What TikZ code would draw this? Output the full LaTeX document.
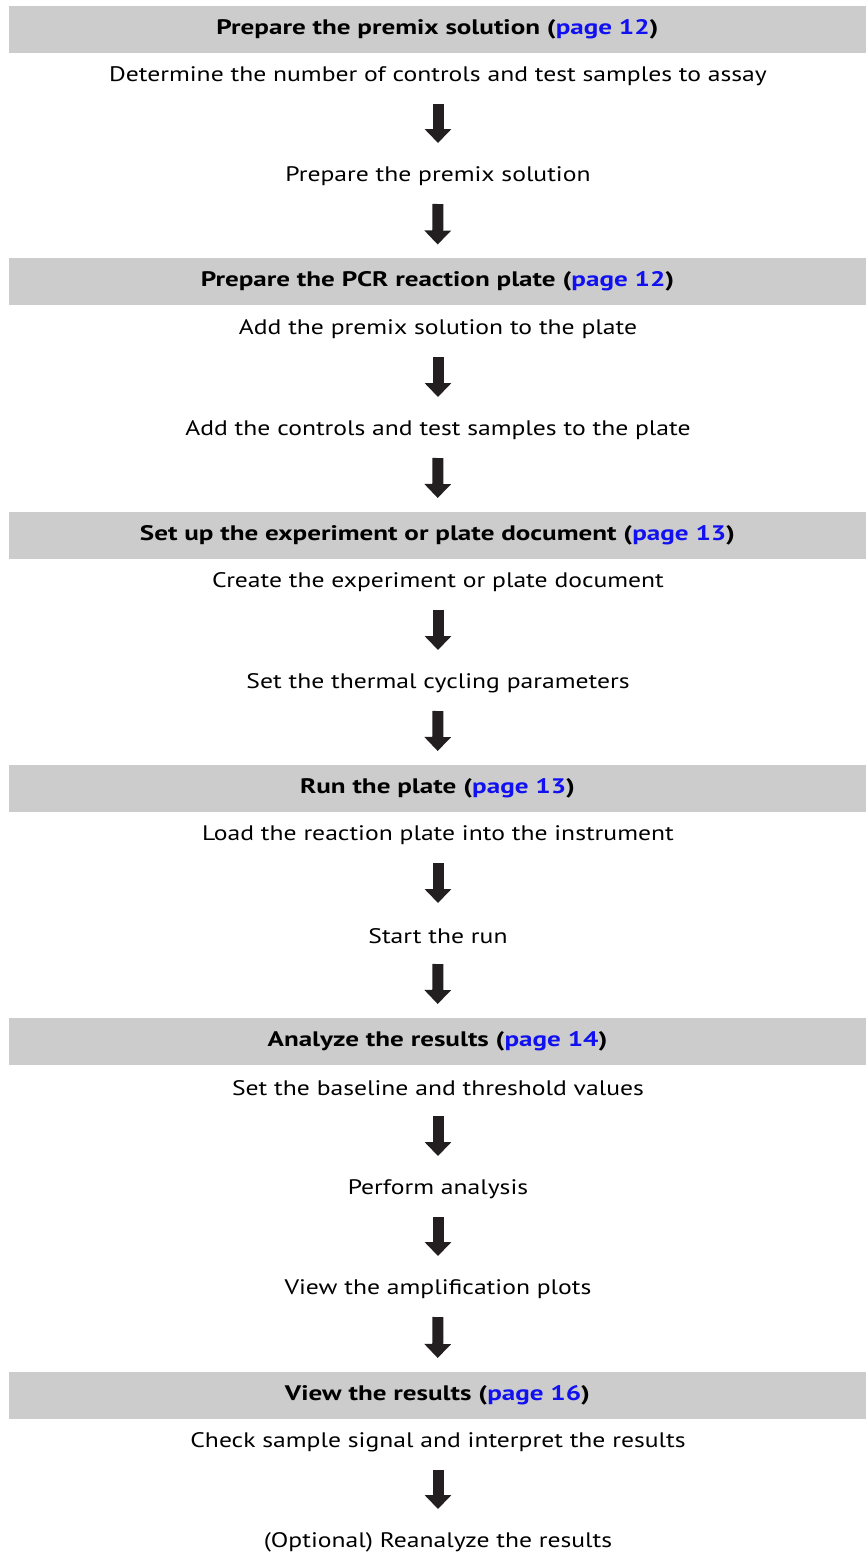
\documentclass[tikz,border=0pt]{standalone}
\usepackage{fontspec}
\setmainfont{PT Sans}
\newfontfamily\stepfont[FakeStretch=1.22]{PT Sans}
\newfontfamily\hdrfont[FakeStretch=1.29]{PT Sans Bold}
\usetikzlibrary{arrows.meta}
\definecolor{barg}{HTML}{CCCCCC}
\definecolor{linkb}{HTML}{1010F0}
\definecolor{arrk}{HTML}{231F20}
\tikzset{
  hdr/.style={fill=barg, minimum width=857pt, minimum height=47pt, inner sep=0pt, anchor=center, font=\hdrfont\fontsize{21}{24}\selectfont, text=black},
  stp/.style={inner sep=0pt, font=\stepfont\fontsize{21}{24}\selectfont, text=black},
  arr/.style={draw=arrk, line width=11pt, -{Triangle[width=26pt,length=14pt]}, shorten <=27.5pt, shorten >=33.5pt},
  arrb/.style={arr, shorten >=37pt}
}
\newcommand{\pg}[1]{{\color{linkb}page #1}}
\begin{document}
\begin{tikzpicture}[x=1pt,y=-1pt]
\useasboundingbox (0,0) rectangle (866,1553);
\node[hdr] (h1) at (437.5,29) {Prepare the premix solution (\pg{12})};
\node[stp] (s1) at (438,76.5) {Determine the number of controls and test samples to assay};
\node[stp] (s2) at (438,176.5) {Prepare the premix solution};
\node[hdr] (h2) at (437.5,281.5) {Prepare the PCR reaction plate (\pg{12})};
\node[stp] (s3) at (438,329.5) {Add the premix solution to the plate};
\node[stp] (s4) at (438,430.5) {Add the controls and test samples to the plate};
\node[hdr] (h3) at (437.5,535) {Set up the experiment or plate document (\pg{13})};
\node[stp] (s5) at (438,582.5) {Create the experiment or plate document};
\node[stp] (s6) at (438,683.5) {Set the thermal cycling parameters};
\node[hdr] (h4) at (437.5,788) {Run the plate (\pg{13})};
\node[stp] (s7) at (438,835.5) {Load the reaction plate into the instrument};
\node[stp] (s8) at (438,936.5) {Start the run};
\node[hdr] (h5) at (437.5,1041) {Analyze the results (\pg{14})};
\node[stp] (s9) at (438,1088.5) {Set the baseline and threshold values};
\node[stp] (s10) at (438,1189.5) {Perform analysis};
\node[stp] (s11) at (438,1289.5) {View the amplification plots};
\node[hdr] (h6) at (437.5,1395) {View the results (\pg{16})};
\node[stp] (s12) at (438,1442.5) {Check sample signal and interpret the results};
\node[stp] (s13) at (438,1542.5) {(Optional) Reanalyze the results};
\draw[arr] (s1.center) -- (s2.center);
\draw[arrb] (s2.center) -- (h2.center);
\draw[arr] (s3.center) -- (s4.center);
\draw[arrb] (s4.center) -- (h3.center);
\draw[arr] (s5.center) -- (s6.center);
\draw[arrb] (s6.center) -- (h4.center);
\draw[arr] (s7.center) -- (s8.center);
\draw[arrb] (s8.center) -- (h5.center);
\draw[arr] (s9.center) -- (s10.center);
\draw[arr] (s10.center) -- (s11.center);
\draw[arrb] (s11.center) -- (h6.center);
\draw[arr] (s12.center) -- (s13.center);
\end{tikzpicture}
\end{document}
